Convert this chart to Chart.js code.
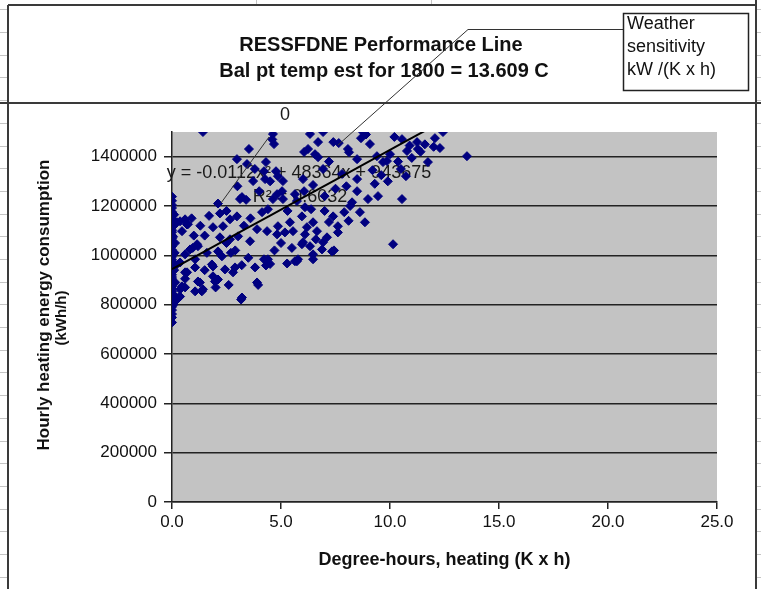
<!DOCTYPE html>
<html>
<head>
<meta charset="utf-8">
<script src="https://cdn.jsdelivr.net/npm/chart.js@4.4.1/dist/chart.umd.min.js"></script>
<style>
  html, body { margin: 0; padding: 0; background: #fff; overflow: hidden; }
  canvas { display: block; }
</style>
</head>
<body>
<canvas id="chart" width="761" height="589"></canvas>
<script>
// Hourly heating degree-hours (K x h)
const degreeHours = [
  0,0,0,0,0,0,0,0,0,0, 0,0,0,0,0,0,0,0,0,0, 0,0,0,0,0,0,0,0,0,0, 0,0,0,0,0,0,0,0,0,0, 0,0,0,0,0,
  0.1,0.08,0.12,0.15,0.18,0.2,0.05,0.1,0.06,0.14,
  1.42,4.63,4.68,4.6,6.33,6.93,7.4,7.65,8.76,8.9,
  8.67,9.08,10.55,11.24,12.06,12.43,12.29,13.53,11.28,11.4,
  10.78,10.0,9.86,10.37,11.74,10.73,10.55,9.45,8.99,8.49,
  8.49,8.07,8.12,8.49,9.4,9.68,8.26,8.17,8.62,8.85,
  7.39,7.61,7.61,7.11,7.43,6.88,6.47,6.47,5.96,5.73,
  5.28,4.4,4.5,3.9,3.21,3.53,2.98,3.44,4.31,4.22,
  4.77,5.09,6.06,6.24,6.7,6.56,6.7,6.93,6.01,6.47,
  6.06,5.64,5.73,6.1,6.38,5.96,6.47,6.19,6.65,6.6,
  6.1,5.55,5.41,5.18,4.86,4.82,4.36,4.13,4.4,4.63,
  4.82,5.09,5.05,4.86,4.27,3.72,3.21,3.12,3.4,2.98,
  2.66,2.34,2.11,2.2,2.66,3.03,3.58,3.9,1.88,1.19,
  0.83,0.6,0.73,0.23,0.46,1.06,0.6,0.6,1.19,1.42,
  1.97,2.11,2.29,2.11,2.43,2.8,2.89,1.88,3.81,4.31,
  4.22,5.64,5.78,6.33,6.01,7.34,6.93,10.14,3.95,1.06,
  0.46,0.37,1.28,1.37,0.23,0.37,0.69,1.15,0.95,0.6,
  0.37,1.06,0.69,1.83,0.6,0.37,1.88,3.17,10.2,10.9,
  11.6,12.0,11.0,10.5,9.6,9.2,9.9,8.0,7.8,7.2,
  7.5,7.0,7.9,8.1,7.0,7.2,9.3,1.5,1.6,2.5,
  2.7,3.3,3.6,1.3,1.7,2.5,3.0,3.8,4.0,4.5,
  5.3,5.5,5.0,4.7,3.5,3.2,2.9,2.2,1.0,0.9,
  1.5,2.0,2.6
];

// Hourly heating energy consumption (kWh/h)
const consumption = [
  1238000,1221000,1204000,1192000,1176000,1163000,1149000,1141000,1127000,1118000,
  1102000,1094000,1081000,1069000,1058000,1047000,1036000,1022000,1013000,1001000,
  994000,982000,973000,961000,955000,942000,933000,921000,912000,904000,
  893000,887000,874000,866000,853000,845000,836000,824000,812000,803000,
  791000,778000,762000,748000,728000,
  1165000,1120000,1010000,890000,960000,830000,1075000,940000,800000,1050000,
  1500000,1492000,1451000,1470000,1492000,1500000,1459000,1455000,1500000,1490000,
  1475000,1451000,1471000,1459000,1475000,1500000,1435000,1402000,1431000,1420000,
  1423000,1410000,1382000,1380000,1378000,1321000,1228000,1240000,1228000,1260000,
  1309000,1431000,1418000,1390000,1402000,1378000,1215000,1200000,1175000,1134000,
  1158000,1118000,1093000,1073000,1020000,1024000,984000,1004000,1045000,976000,
  967000,984000,965000,890000,829000,1431000,1390000,1370000,1378000,1341000,
  1341000,1301000,1419000,1431000,1459000,1410000,1398000,1350000,1309000,1285000,
  1260000,1248000,1220000,1195000,1187000,1158000,1134000,1114000,1098000,1065000,
  1085000,1098000,1134000,1093000,1118000,1085000,1098000,1175000,1187000,1228000,
  1248000,1228000,1260000,1321000,1309000,1301000,1236000,1228000,1225000,1158000,
  1146000,1118000,1210000,1073000,1065000,1077000,1057000,1106000,1114000,1037000,
  1024000,1146000,1126000,1134000,1098000,984000,931000,905000,894000,862000,
  894000,902000,996000,1016000,943000,931000,951000,955000,951000,959000,
  984000,976000,984000,1037000,1053000,1016000,1053000,1045000,880000,854000,
  874000,862000,890000,854000,821000,1138000,1125000,1045000,1030000,1004000,
  971000,951000,931000,963000,870000,833000,915000,821000,1480000,1445000,
  1450000,1440000,1395000,1350000,1325000,1345000,1300000,1280000,1330000,1380000,
  1270000,1240000,1175000,1140000,1180000,1135000,1290000,1080000,1010000,1050000,
  1010000,1120000,1150000,1120000,1160000,1180000,1280000,1350000,1260000,1300000,
  1180000,1030000,1050000,1020000,990000,960000,1020000,1170000,1080000,1150000,
  940000,870000,880000
];

// Axis ticks
const xTicks = [0, 5, 10, 15, 20, 25];
const yTicks = [0, 200000, 400000, 600000, 800000, 1000000, 1200000, 1400000];

// Polynomial trendline y = a*x^2 + b*x + c, as printed on the chart
const trendCoef = { a: -0.0112, b: 48364, c: 943675 };
const trendX = [0, 3, 6, 9, 12, 13.53];
const trendEquation = 'y = -0.0112x\u00B2 + 48364x + 943675';
const trendR2 = 'R\u00B2 = 0.6032';

const FONT = 'Arial, "Liberation Sans", sans-serif';
const INK = '#111';

const scatterPoints = degreeHours.map((x, i) => ({ x: x, y: consumption[i] }));
const trendPoints = trendX.map(x => ({ x: x, y: trendCoef.a * x * x + trendCoef.b * x + trendCoef.c }));

const sheetPlugin = {
  id: 'sheet',
  beforeDraw(chart) {
    const { ctx, width, height, chartArea: a } = chart;
    ctx.save();
    ctx.fillStyle = '#fff';
    ctx.fillRect(0, 0, width, height);

    // worksheet cell borders visible around the embedded chart
    ctx.strokeStyle = '#c4c4c4';
    ctx.lineWidth = 1;
    ctx.beginPath();
    for (let y = 9.3; y < height; y += 22.7) {
      const yy = Math.round(y) + 0.5;
      ctx.moveTo(0, yy); ctx.lineTo(7, yy);
      ctx.moveTo(757, yy); ctx.lineTo(761, yy);
    }
    ctx.moveTo(256.5, 0); ctx.lineTo(256.5, 5);
    ctx.moveTo(431.5, 0); ctx.lineTo(431.5, 5);
    ctx.stroke();

    // chart frames
    ctx.strokeStyle = '#3a3a3a';
    ctx.lineWidth = 2;
    ctx.beginPath();
    ctx.moveTo(8, 5); ctx.lineTo(756, 5);
    ctx.moveTo(8, 5); ctx.lineTo(8, height);
    ctx.moveTo(756, 0); ctx.lineTo(756, height);
    ctx.moveTo(0, 103); ctx.lineTo(width, 103);
    ctx.stroke();

    // plot area
    ctx.fillStyle = '#c3c3c3';
    ctx.fillRect(a.left, a.top, a.right - a.left, a.bottom - a.top);

    // value axis title, two centred lines
    ctx.fillStyle = INK;
    ctx.textAlign = 'center';
    ctx.textBaseline = 'middle';
    ctx.save();
    ctx.translate(44, 305);
    ctx.rotate(-Math.PI / 2);
    ctx.font = 'bold 17px ' + FONT;
    ctx.fillText('Hourly heating energy consumption', 0, 0);
    ctx.restore();
    ctx.save();
    ctx.translate(62, 318);
    ctx.rotate(-Math.PI / 2);
    ctx.font = 'bold 15px ' + FONT;
    ctx.fillText('(kWh/h)', 0, 0);
    ctx.restore();
    ctx.restore();
  },
  beforeDatasetsDraw(chart) {
    const { ctx } = chart;
    ctx.save();
    ctx.fillStyle = '#1a1a1a';
    ctx.font = '18px ' + FONT;
    ctx.textAlign = 'center';
    ctx.textBaseline = 'alphabetic';
    ctx.fillText(trendEquation, 299, 178);
    ctx.fillText(trendR2, 300, 202);
    ctx.fillText('0', 285, 120);
    ctx.restore();
  },
  afterDraw(chart) {
    const { ctx } = chart;
    ctx.save();
    // chart title
    ctx.fillStyle = INK;
    ctx.font = 'bold 20px ' + FONT;
    ctx.textAlign = 'center';
    ctx.textBaseline = 'alphabetic';
    ctx.fillText('RESSFDNE Performance Line', 381, 51);
    ctx.fillText('Bal pt temp est for 1800 = 13.609 C', 384, 77);

    // leader lines
    ctx.strokeStyle = '#333';
    ctx.lineWidth = 1;
    ctx.beginPath();
    ctx.moveTo(623, 29.5); ctx.lineTo(468, 29.5); ctx.lineTo(338, 145);
    ctx.moveTo(269, 137); ctx.lineTo(221, 203);
    ctx.stroke();

    // weather sensitivity note
    ctx.fillStyle = '#fff';
    ctx.fillRect(623, 13, 125, 77);
    ctx.strokeStyle = '#222';
    ctx.lineWidth = 1.5;
    ctx.strokeRect(623.5, 13.5, 125, 77);
    ctx.fillStyle = INK;
    ctx.font = '18px ' + FONT;
    ctx.textAlign = 'left';
    ctx.fillText('Weather', 627, 29);
    ctx.fillText('sensitivity', 627, 52);
    ctx.fillText('kW /(K x h)', 627, 75);
    ctx.restore();
  }
};

Chart.defaults.font.family = FONT;
Chart.defaults.color = INK;

new Chart(document.getElementById('chart'), {
  type: 'scatter',
  data: {
    datasets: [
      {
        type: 'line',
        label: 'Trend',
        data: trendPoints,
        borderColor: '#000',
        borderWidth: 2,
        pointRadius: 0,
        tension: 0.2,
        fill: false,
        order: 0
      },
      {
        label: 'Hourly consumption',
        data: scatterPoints,
        pointStyle: 'rectRot',
        pointRadius: 4.5,
        borderWidth: 1,
        backgroundColor: '#000080',
        borderColor: '#000080',
        order: 1
      }
    ]
  },
  options: {
    responsive: false,
    animation: false,
    devicePixelRatio: 1,
    layout: { padding: { top: 132, left: 0, right: 44, bottom: 0 } },
    plugins: {
      legend: { display: false },
      tooltip: { enabled: false },
      title: { display: false }
    },
    scales: {
      x: {
        type: 'linear',
        min: 0,
        max: 25,
        afterBuildTicks: s => { s.ticks = xTicks.map(v => ({ value: v })); },
        afterFit: s => { s.height = 87; },
        ticks: {
          callback: v => Number(v).toFixed(1),
          font: { size: 17 },
          color: INK,
          padding: 3,
          maxRotation: 0,
          autoSkip: false
        },
        grid: { drawOnChartArea: false, tickLength: 7, color: '#222', lineWidth: 1.5 },
        border: { color: '#222', width: 1.5 },
        title: {
          display: true,
          text: 'Degree-hours, heating (K x h)',
          font: { size: 18, weight: 'bold' },
          color: INK,
          padding: { top: 0, bottom: 18 }
        }
      },
      y: {
        type: 'linear',
        min: 0,
        max: 1500000,
        afterBuildTicks: s => { s.ticks = yTicks.map(v => ({ value: v })); },
        afterFit: s => { s.width = 172; },
        ticks: {
          callback: v => String(v),
          font: { size: 17 },
          color: INK,
          padding: 7,
          autoSkip: false
        },
        grid: { color: '#222', lineWidth: 1.5, tickLength: 8 },
        border: { color: '#222', width: 1.5 },
        title: { display: false }
      }
    }
  },
  plugins: [sheetPlugin]
});
</script>
</body>
</html>
